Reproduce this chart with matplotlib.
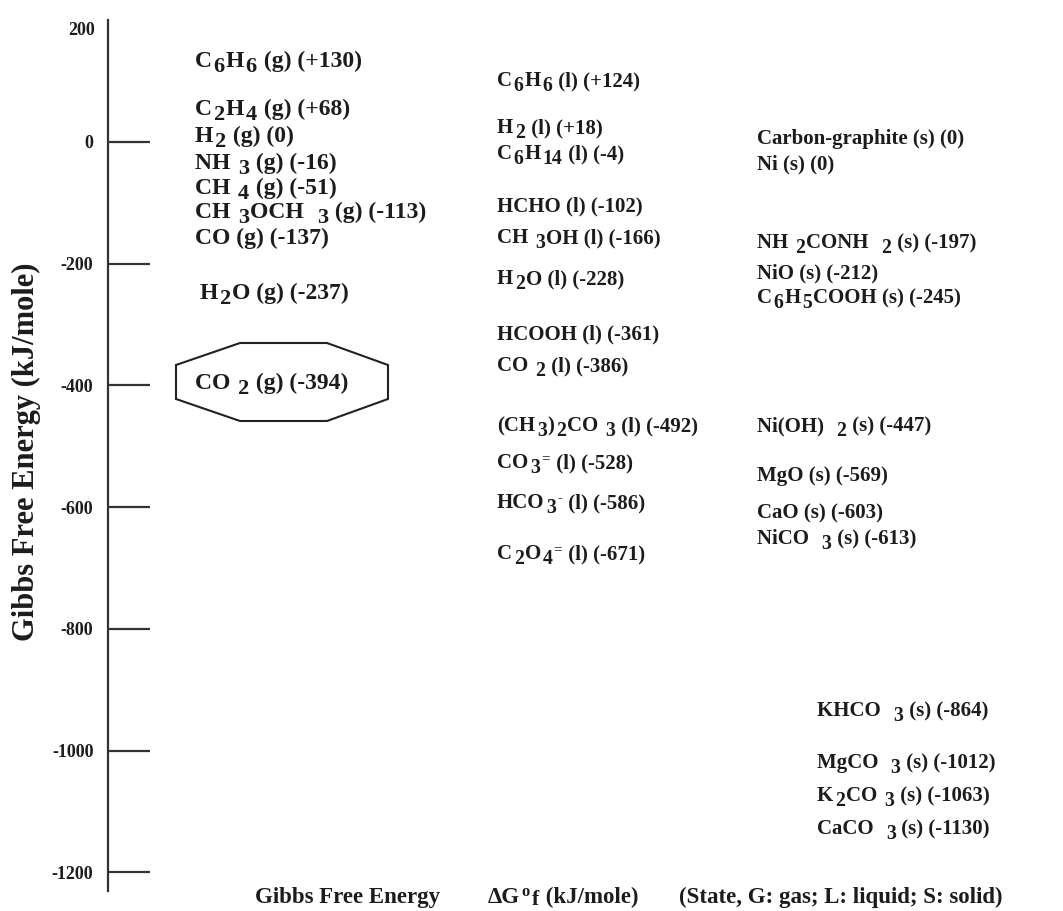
import matplotlib
matplotlib.use("Agg")
import matplotlib.pyplot as plt
from matplotlib.patches import Polygon
from matplotlib.transforms import ScaledTranslation

# ---------------- data ----------------
gas_formulas = ["C_6H_6", "C_2H_4", "H_2", "NH _3", "CH _4", "CH _3OCH  _3", "CO", "H_2O", "CO _2"]
gas_values = [130, 68, 0, -16, -51, -113, -137, -237, -394]

liquid_formulas = ["C_6H_6", "H_2", "C_6H_{14}", "HCHO", "CH _3OH", "H_2O", "HCOOH", "CO _2",
                   "(CH_3)_2CO _3", "CO_3^=", "HCO_3^-", "C_2O_4^="]
liquid_values = [124, 18, -4, -102, -166, -228, -361, -386, -492, -528, -586, -671]

solid_formulas = ["Carbon-graphite", "Ni", "NH _2CONH  _2", "NiO", "C_6H_5COOH", "Ni(OH)  _2",
                  "MgO", "CaO", "NiCO  _3", "KHCO  _3", "MgCO  _3", "K_2CO _3", "CaCO  _3"]
solid_values = [0, 0, -197, -212, -245, -447, -569, -603, -613, -864, -1012, -1063, -1130]

tick_values = [200, 0, -200, -400, -600, -800, -1000, -1200]
tick_labels = ["200", "0", "-200", "-400", "-600", "-800", "-1000", "-1200"]

ylabel_text = "Gibbs Free Energy (kJ/mole)"
footer_parts = ["Gibbs Free Energy", "\u0394G^o_f (kJ/mole)", "(State, G: gas; L: liquid; S: solid)"]

# ---------------- layout (label placement, spread for legibility) ----------------
W, H, DPI = 1063, 911, 100
Y0_PX, PX_PER_KJ = 142.0, 0.6085


def py(pix):  # pixel row -> kJ/mole position
    return (Y0_PX - pix) / PX_PER_KJ


gas_x = [195, 195, 195, 195, 195, 195, 195, 200, 195]
gas_pos = [py(v) for v in [60, 108, 135, 162, 187, 211, 237, 292, 382]]
liquid_x = [497] * 12
liquid_pos = [py(v) for v in [80, 127, 153, 205, 237, 278, 333, 365, 425, 462, 502, 553]]
solid_x = [757] * 9 + [817] * 4
solid_pos = [py(v) for v in [138, 163, 242, 272, 297, 425, 475, 512, 538, 710, 762, 795, 828]]
footer_x = [255, 488, 679]

FONT = "Liberation Serif"
COLOR = "#1c1c1c"
GAS_SIZE = 17
LABEL_SIZE = 15
TICK_SIZE = 13
FOOTER_SIZE = 16.5
YLABEL_SIZE = 22

fig = plt.figure(figsize=(W / DPI, H / DPI), dpi=DPI)
ax = fig.add_axes([0, 0, 1, 1])
ax.set_xlim(0, W)
ax.set_ylim(py(H), py(0))
for s in ["top", "right", "bottom"]:
    ax.spines[s].set_visible(False)
ax.spines["left"].set_position(("data", 108))
ax.spines["left"].set_bounds(py(891), 200)
ax.spines["left"].set_linewidth(1.6)
ax.spines["left"].set_color("#333333")
ax.set_xticks([])
ax.set_yticks(tick_values)
ax.set_yticklabels(tick_labels)
ax.tick_params(axis="y", direction="in", length=30, width=1.6, color="#333333",
               pad=10.5, labelsize=TICK_SIZE, labelcolor=COLOR)
for lab in ax.get_yticklabels():
    lab.set_fontfamily(FONT)
    lab.set_fontweight("bold")
ticks = ax.yaxis.get_major_ticks()
ticks[0].tick1line.set_visible(False)
ax.get_yticklabels()[0].set_transform(ax.get_yticklabels()[0].get_transform()
                                      + ScaledTranslation(2 / DPI, -8 / DPI, fig.dpi_scale_trans))
ax.patch.set_visible(False)


def parse(markup):
    segs, buf, i = [], "", 0
    while i < len(markup):
        c = markup[i]
        if c in "_^":
            if buf:
                segs.append((buf, "n"))
                buf = ""
            kind = "sub" if c == "_" else "sup"
            if markup[i + 1] == "{":
                j = markup.index("}", i)
                segs.append((markup[i + 2:j], kind))
                i = j + 1
            else:
                segs.append((markup[i + 1], kind))
                i += 2
            continue
        buf += c
        i += 1
    if buf:
        segs.append((buf, "n"))
    return segs


def rich(x, y, markup, size=LABEL_SIZE, drop=0.22):
    base = 0.30 * size  # shift from visual centre to baseline (points)
    prev = None
    for text, kind in parse(markup):
        if kind == "n":
            dy, fs, gap = -base, size, 0.6
        elif kind == "sub":
            dy, fs, gap = -base - drop * size, size * 0.95, 1.2
        else:
            dy, fs, gap = -base + 0.30 * size, size * 0.72, 1.0
        kw = dict(textcoords="offset points", va="baseline", ha="left", fontsize=fs,
                  fontfamily=FONT, fontweight="bold", color=COLOR, annotation_clip=False)
        if prev is None:
            t = ax.annotate(text, xy=(x, y), xycoords="data", xytext=(0, dy), **kw)
        else:
            t = ax.annotate(text, xy=(1, y), xycoords=(prev, "data"), xytext=(gap, dy), **kw)
        prev = t
    return prev


def fmt(v):
    return "(0)" if v == 0 else f"({v:+d})"


for f, v, x, p in zip(gas_formulas, gas_values, gas_x, gas_pos):
    rich(x, p, f"{f} (g) {fmt(v)}", size=GAS_SIZE)
for f, v, x, p in zip(liquid_formulas, liquid_values, liquid_x, liquid_pos):
    rich(x, p, f"{f} (l) {fmt(v)}")
for f, v, x, p in zip(solid_formulas, solid_values, solid_x, solid_pos):
    rich(x, p, f"{f} (s) {fmt(v)}")

# octagon around the CO2 (g) label
oct_px = [(240, 343), (327, 343), (388, 365), (388, 399), (327, 421), (240, 421), (176, 399), (176, 365)]
ax.add_patch(Polygon([(xx, py(yy)) for xx, yy in oct_px], closed=True, fill=False,
                     edgecolor="#222222", linewidth=1.5))

ax.text(26, py(452), ylabel_text, rotation=90, ha="center", va="center", fontsize=YLABEL_SIZE,
        fontfamily=FONT, fontweight="bold", color=COLOR)
for part, fx in zip(footer_parts, footer_x):
    rich(fx, py(896), part, size=FOOTER_SIZE, drop=0.1)

fig.savefig("out.png", dpi=DPI)
